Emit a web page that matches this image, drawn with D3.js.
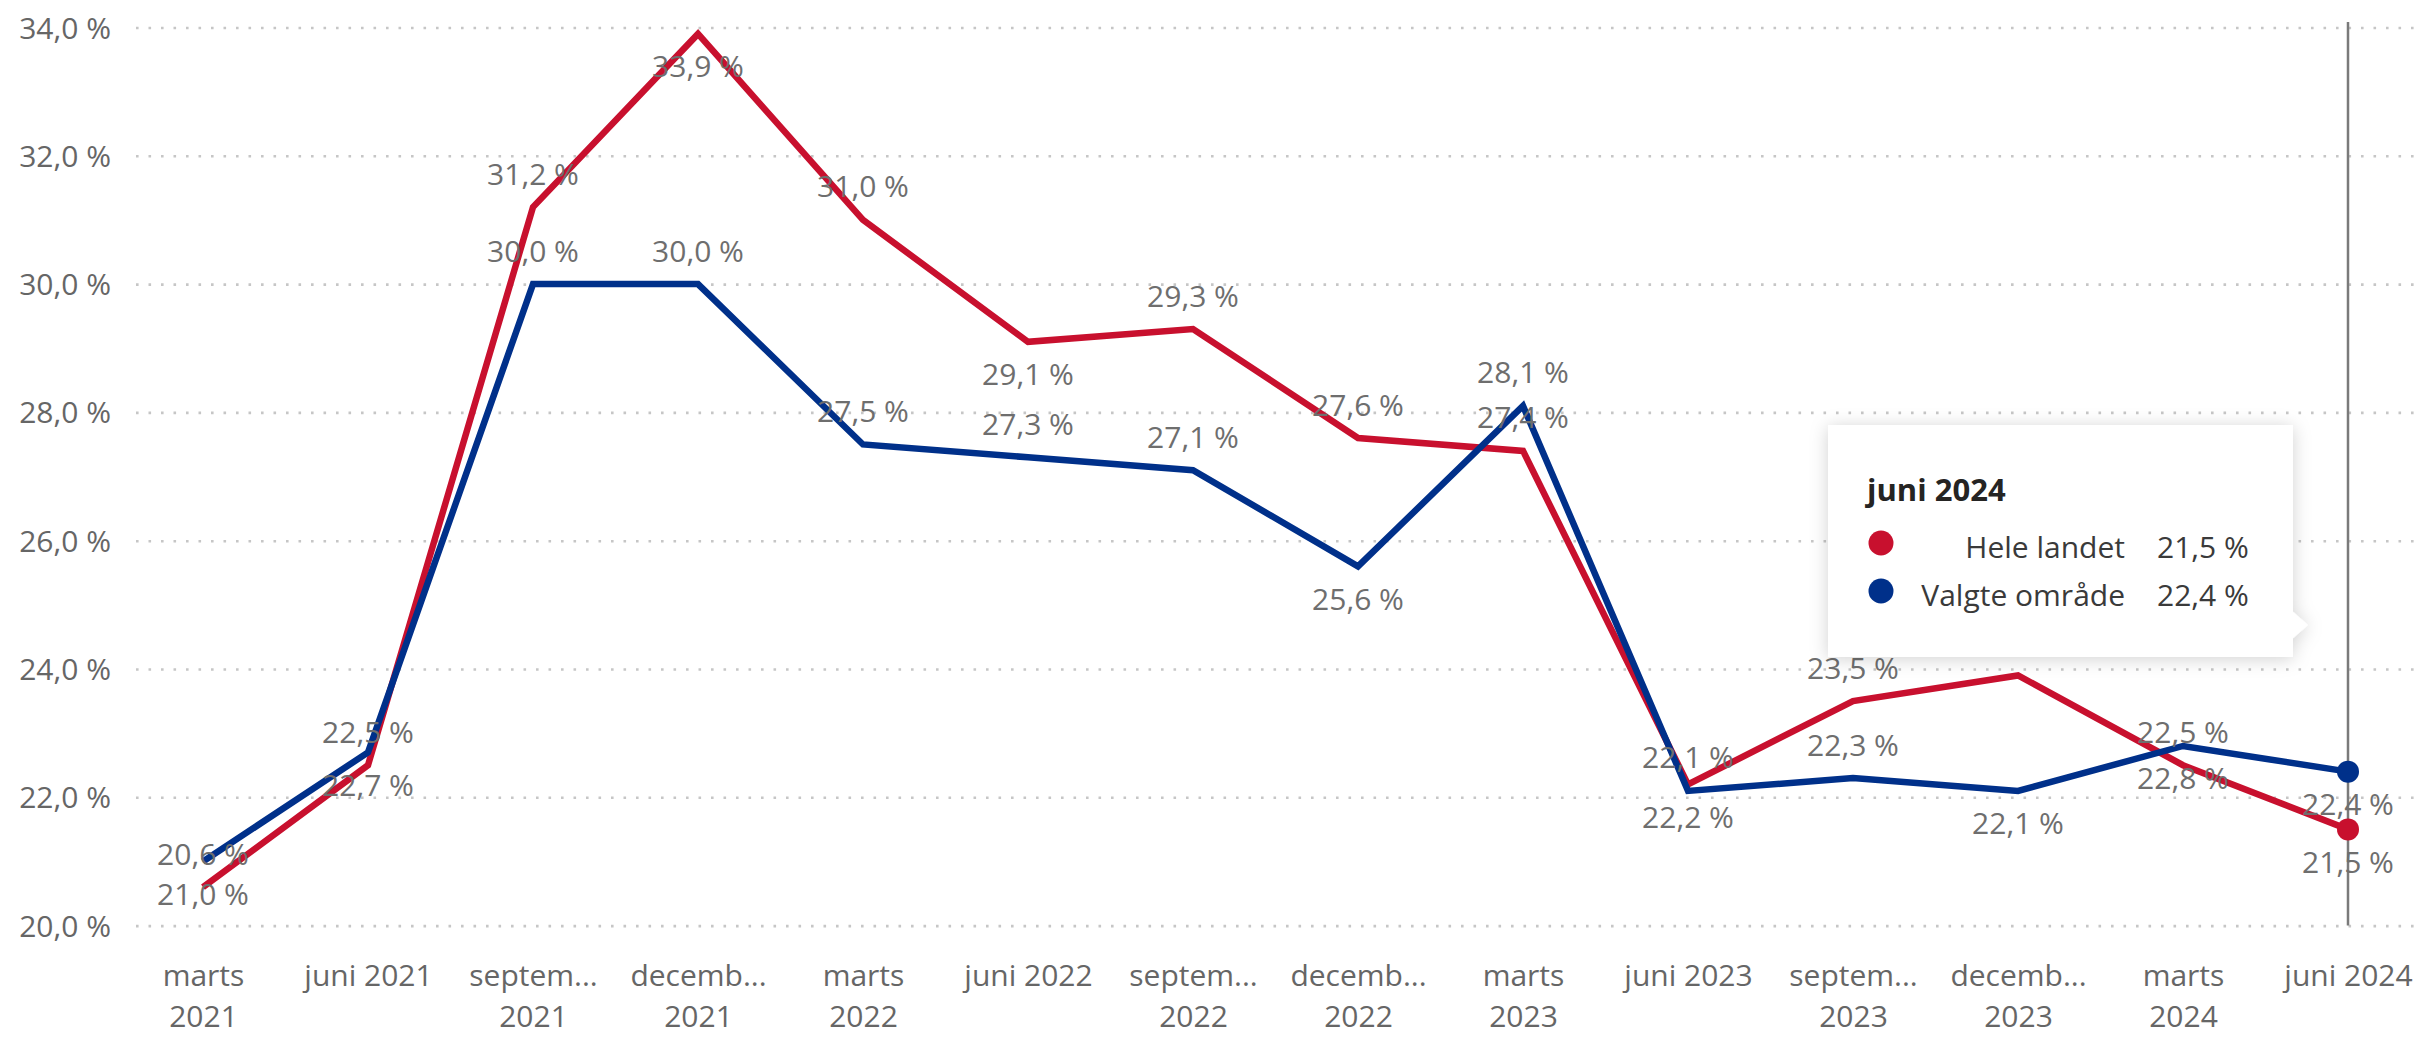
<!DOCTYPE html>
<html>
<head>
<meta charset="utf-8">
<script src="https://cdn.jsdelivr.net/npm/d3@7"></script>
<style>
  html, body { margin: 0; padding: 0; background: #fff; }
  svg { display: block; font-family: "Open Sans", "Noto Sans", sans-serif; }
</style>
</head>
<body>
<svg id="chart" width="2423" height="1037"></svg>
<script>
// ---- data ----
const categories = ["marts 2021","juni 2021","september 2021","december 2021","marts 2022","juni 2022","september 2022","december 2022","marts 2023","juni 2023","september 2023","december 2023","marts 2024","juni 2024"];
const tickLines = [["marts","2021"],["juni 2021"],["septem...","2021"],["decemb...","2021"],["marts","2022"],["juni 2022"],["septem...","2022"],["decemb...","2022"],["marts","2023"],["juni 2023"],["septem...","2023"],["decemb...","2023"],["marts","2024"],["juni 2024"]];
const yTicks = [20,22,24,26,28,30,32,34];
const seriesNames = ["Hele landet","Valgte område"];
const heleLandet   = [20.6,22.5,31.2,33.9,31.0,29.1,29.3,27.6,27.4,22.2,23.5,23.9,22.5,21.5];
const valgteOmrade = [21.0,22.7,30.0,30.0,27.5,27.3,27.1,25.6,28.1,22.1,22.3,22.1,22.8,22.4];
// label placement relative to the point (as in the picture)
const heleLabelSide   = ["above","above","above","below","above","below","above","above","above","below","above","above","above","below"];
const valgteLabelSide = ["below","below","above","above","above","above","above","below","above","above","above","below","below","below"];
const hoverCategory = "juni 2024";

// ---- setup ----
const W = 2423, H = 1037;
const colors = ["#C8102E", "#00308A"];
const svg = d3.select("#chart");
const defs = svg.append("defs");
const f = defs.append("filter").attr("id","shadow").attr("x","-20%").attr("y","-20%").attr("width","140%").attr("height","140%");
f.append("feDropShadow").attr("dx",0).attr("dy",2).attr("stdDeviation",9).attr("flood-color","#000").attr("flood-opacity",0.18);

const x = d3.scalePoint().domain(categories).range([203, 2348]);
const y = d3.scaleLinear().domain([20, 34]).range([925.6, 27.5]);
const fmt = v => d3.format(".1f")(v).replace(".", ",") + " %";

// gridlines
const grid = svg.append("g").attr("transform","translate(136,0)")
  .call(d3.axisLeft(y).tickValues(yTicks).tickSize(-(W-136)).tickFormat(""));
grid.select(".domain").remove();
grid.selectAll(".tick line").attr("stroke","#c6c6c6").attr("stroke-width",2.6).attr("stroke-dasharray","2.6,9.9");

// y axis labels
const yAxis = svg.append("g").attr("transform","translate(136,0)")
  .call(d3.axisLeft(y).tickValues(yTicks).tickSize(0).tickPadding(25).tickFormat(fmt));
yAxis.select(".domain").remove();
yAxis.selectAll("text").attr("font-size",30).attr("fill","#666").attr("font-family","Open Sans").attr("dy","0.35em");

// x axis labels
const xAxis = svg.append("g").attr("transform",`translate(0,${y(20)})`)
  .call(d3.axisBottom(x).tickSize(0).tickFormat(""));
xAxis.select(".domain").remove();
xAxis.selectAll(".tick").each(function(d){
  const i = categories.indexOf(d);
  const t = d3.select(this).select("text").attr("y", 0).attr("dy", 0)
    .attr("font-size",30).attr("fill","#666").attr("font-family","Open Sans").attr("text-anchor","middle");
  t.text(null);
  tickLines[i].forEach((ln, k) => {
    t.append("tspan").attr("x",0).attr("y", 60.5 + k*41).text(ln);
  });
});

// hover vertical line
svg.append("line")
  .attr("x1", x(hoverCategory)).attr("x2", x(hoverCategory))
  .attr("y1", 22).attr("y2", y(20))
  .attr("stroke","#7a7a7a").attr("stroke-width",2.5);

// lines
const allSeries = [heleLandet, valgteOmrade];
const line = d3.line().x((d,i) => x(categories[i])).y(d => y(d));
allSeries.forEach((s, k) => {
  svg.append("path").datum(s).attr("d", line)
    .attr("fill","none").attr("stroke", colors[k]).attr("stroke-width",6.5)
    .attr("stroke-linejoin","miter").attr("stroke-linecap","butt");
});

// data labels
const sides = [heleLabelSide, valgteLabelSide];
allSeries.forEach((s, k) => {
  svg.append("g").selectAll("text").data(s).join("text")
    .attr("x", (d,i) => x(categories[i]))
    .attr("y", (d,i) => y(d) + (sides[k][i] === "above" ? -33 : 33))
    .attr("dy","0.35em")
    .attr("text-anchor","middle")
    .attr("font-size",30).attr("font-family","Open Sans")
    .attr("fill","#6e6e6e")
    .text(d => fmt(d));
});

// hover dots
const hi = categories.indexOf(hoverCategory);
allSeries.forEach((s, k) => {
  svg.append("circle").attr("cx", x(hoverCategory)).attr("cy", y(s[hi])).attr("r", 11).attr("fill", colors[k]);
});

// tooltip
const tip = svg.append("g");
const box = tip.append("g").attr("filter","url(#shadow)");
box.append("rect").attr("x",1828).attr("y",425).attr("width",465).attr("height",232).attr("fill","#fff");
box.append("path").attr("d","M2292,611 L2308,625 L2292,639 Z").attr("fill","#fff");
tip.append("text").attr("x",1867).attr("y",501).attr("font-size",31).attr("font-weight","bold")
  .attr("font-family","Open Sans").attr("fill","#252423").text(hoverCategory);
seriesNames.forEach((n, k) => {
  const cy = 543 + k*48;
  tip.append("circle").attr("cx",1881).attr("cy",cy).attr("r",12.5).attr("fill",colors[k]);
  tip.append("text").attr("x",2125).attr("y",cy+15).attr("text-anchor","end")
    .attr("font-size",30).attr("font-family","Open Sans").attr("fill","#3a3a3a").text(n);
  tip.append("text").attr("x",2157).attr("y",cy+15)
    .attr("font-size",30).attr("font-family","Open Sans").attr("fill","#3a3a3a").text(fmt(allSeries[k][hi]));
});
</script>
</body>
</html>
